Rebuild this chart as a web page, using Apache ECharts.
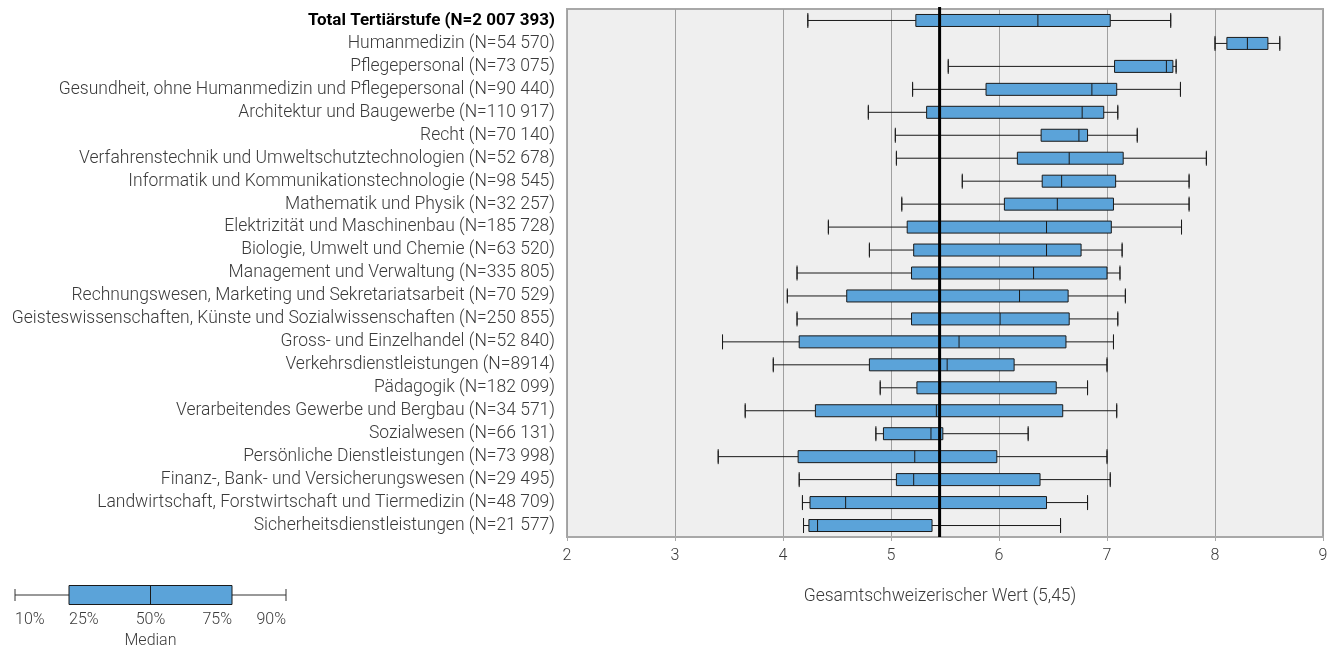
<!DOCTYPE html>
<html>
<head>
<meta charset="utf-8">
<script src="https://cdn.jsdelivr.net/npm/echarts@6/dist/echarts.min.js"></script>
<style>
html,body{margin:0;padding:0;background:#fff;}
#chart{width:1338px;height:649px;}
</style>
</head>
<body>
<div id="chart"></div>
<script>
const categories = [
  'Total Tertiärstufe (N=2 007 393)',
  'Humanmedizin (N=54 570)',
  'Pflegepersonal (N=73 075)',
  'Gesundheit, ohne Humanmedizin und Pflegepersonal (N=90 440)',
  'Architektur und Baugewerbe (N=110 917)',
  'Recht (N=70 140)',
  'Verfahrenstechnik und Umweltschutztechnologien (N=52 678)',
  'Informatik und Kommunikationstechnologie (N=98 545)',
  'Mathematik und Physik (N=32 257)',
  'Elektrizität und Maschinenbau (N=185 728)',
  'Biologie, Umwelt und Chemie (N=63 520)',
  'Management und Verwaltung (N=335 805)',
  'Rechnungswesen, Marketing und Sekretariatsarbeit (N=70 529)',
  'Geisteswissenschaften, Künste und Sozialwissenschaften (N=250 855)',
  'Gross- und Einzelhandel (N=52 840)',
  'Verkehrsdienstleistungen (N=8914)',
  'Pädagogik (N=182 099)',
  'Verarbeitendes Gewerbe und Bergbau (N=34 571)',
  'Sozialwesen (N=66 131)',
  'Persönliche Dienstleistungen (N=73 998)',
  'Finanz-, Bank- und Versicherungswesen (N=29 495)',
  'Landwirtschaft, Forstwirtschaft und Tiermedizin (N=48 709)',
  'Sicherheitsdienstleistungen (N=21 577)'
];
// percentiles per category
const p10 = [4.23, 8.00, 5.53, 5.20, 4.79, 5.04, 5.05, 5.66, 5.10, 4.42, 4.80, 4.13, 4.04, 4.13, 3.44, 3.91, 4.90, 3.65, 4.86, 3.40, 4.15, 4.18, 4.19];
const p25 = [5.23, 8.11, 7.07, 5.88, 5.33, 6.39, 6.17, 6.40, 6.05, 5.15, 5.21, 5.19, 4.59, 5.19, 4.15, 4.80, 5.24, 4.30, 4.93, 4.14, 5.05, 4.25, 4.24];
const p50 = [6.36, 8.30, 7.55, 6.86, 6.77, 6.74, 6.65, 6.58, 6.54, 6.44, 6.44, 6.32, 6.19, 6.01, 5.63, 5.52, 5.46, 5.42, 5.37, 5.22, 5.21, 4.58, 4.32];
const p75 = [7.03, 8.49, 7.61, 7.09, 6.97, 6.82, 7.15, 7.08, 7.06, 7.04, 6.76, 7.00, 6.64, 6.65, 6.62, 6.14, 6.53, 6.59, 5.48, 5.98, 6.38, 6.44, 5.38];
const p90 = [7.59, 8.60, 7.64, 7.68, 7.10, 7.28, 7.92, 7.76, 7.76, 7.69, 7.14, 7.12, 7.17, 7.10, 7.06, 7.00, 6.82, 7.09, 6.27, 7.00, 7.03, 6.82, 6.57];
const overallValue = 5.45;
const xTicks = [2, 3, 4, 5, 6, 7, 8, 9];
const xAxisName = 'Gesamtschweizerischer Wert (5,45)';
// legend key: example percentiles on a 0..271 scale
const legendKey = [0, 54, 135.5, 217, 271];
const legendLabels = ['10%', '25%', '50%', '75%', '90%'];
const legendMedianLabel = 'Median';

const boxData = categories.map((c, i) => [p10[i], p25[i], p50[i], p75[i], p90[i]]);
const capData = categories.map((c, i) => [p10[i], p90[i], i]);

const chart = echarts.init(document.getElementById('chart'), null, {renderer: 'canvas'});
const FONT = 'Roboto, "Noto Sans", sans-serif';
const BOX = '#5BA3D9';
const TXT = '#3a3a3a';

const option = {
  animation: false,
  textStyle: {fontFamily: FONT},
  grid: [
    {left: 567, right: 15, top: 9, height: 528, show: true, backgroundColor: '#EFEFEF', borderColor: '#A8A8A8', borderWidth: 2, containLabel: false},
    {left: 15, width: 271, top: 586, height: 18, show: false}
  ],
  xAxis: [
    {
      type: 'value', gridIndex: 0, min: xTicks[0], max: xTicks[xTicks.length - 1], interval: 1,
      axisLine: {show: true, lineStyle: {color: '#A8A8A8', width: 2}},
      axisTick: {show: true, length: 4, lineStyle: {color: '#A8A8A8'}},
      splitLine: {show: true, lineStyle: {color: '#A0A0A0', width: 1}},
      axisLabel: {color: TXT, fontSize: 16, fontWeight: 300, margin: 11, fontFamily: FONT},
      name: xAxisName, nameLocation: 'middle', nameGap: 51,
      nameTextStyle: {color: TXT, fontSize: 17.5, fontWeight: 300, fontFamily: FONT, padding: [0, 10, 0, 0]}
    },
    {type: 'value', gridIndex: 1, min: 0, max: 271, show: false}
  ],
  yAxis: [
    {
      type: 'category', gridIndex: 0, data: categories, inverse: true,
      axisLine: {show: false}, axisTick: {show: false}, splitLine: {show: false},
      axisLabel: {
        margin: 12, interval: 0,
        formatter: function (v, i) { return i === 0 ? '{b|' + v + '}' : '{n|' + v + '}'; },
        rich: {
          b: {fontWeight: 'bold', color: '#000', fontSize: 17, fontFamily: FONT},
          n: {color: TXT, fontSize: 17.5, fontWeight: 300, fontFamily: FONT}
        }
      }
    },
    {type: 'category', gridIndex: 1, data: ['key'], show: false}
  ],
  series: [
    {
      type: 'boxplot', xAxisIndex: 0, yAxisIndex: 0,
      data: boxData, boxWidth: [12, 12],
      itemStyle: {color: BOX, borderColor: '#1a1a1a', borderWidth: 1},
      z: 3
    },
    {
      type: 'custom', xAxisIndex: 0, yAxisIndex: 0,
      data: capData, encode: {x: [0, 1], y: 2},
      renderItem: function (params, api) {
        const a = api.coord([api.value(0), api.value(2)]);
        const b = api.coord([api.value(1), api.value(2)]);
        const h = 7.5;
        return {
          type: 'group',
          children: [
            {type: 'line', shape: {x1: a[0], y1: a[1] - h, x2: a[0], y2: a[1] + h}, style: {stroke: '#1a1a1a', lineWidth: 1}},
            {type: 'line', shape: {x1: b[0], y1: b[1] - h, x2: b[0], y2: b[1] + h}, style: {stroke: '#1a1a1a', lineWidth: 1}}
          ]
        };
      },
      z: 4
    },
    {
      type: 'custom', xAxisIndex: 0, yAxisIndex: 0,
      data: [[overallValue, 0]], encode: {x: 0, y: 1},
      renderItem: function (params, api) {
        const p = api.coord([api.value(0), 0]);
        const cs = params.coordSys;
        return {type: 'line', shape: {x1: p[0], y1: cs.y - 2, x2: p[0], y2: cs.y + cs.height}, style: {stroke: '#000', lineWidth: 3}};
      },
      z: 6
    },
    {
      type: 'custom', xAxisIndex: 1, yAxisIndex: 1,
      data: [legendKey.concat([0])], encode: {x: [0, 1, 2, 3, 4], y: 5},
      renderItem: function (params, api) {
        const p = [0, 1, 2, 3, 4].map(k => api.coord([api.value(k), api.value(5)]));
        const cy = p[0][1];
        const bh = 9.5, ch = 6;
        return {
          type: 'group',
          children: [
            {type: 'line', shape: {x1: p[0][0], y1: cy, x2: p[1][0], y2: cy}, style: {stroke: '#333', lineWidth: 1}},
            {type: 'line', shape: {x1: p[3][0], y1: cy, x2: p[4][0], y2: cy}, style: {stroke: '#333', lineWidth: 1}},
            {type: 'line', shape: {x1: p[0][0], y1: cy - ch, x2: p[0][0], y2: cy + ch}, style: {stroke: '#333', lineWidth: 1}},
            {type: 'line', shape: {x1: p[4][0], y1: cy - ch, x2: p[4][0], y2: cy + ch}, style: {stroke: '#333', lineWidth: 1}},
            {type: 'rect', shape: {x: p[1][0], y: cy - bh, width: p[3][0] - p[1][0], height: 2 * bh}, style: {fill: BOX, stroke: '#1a1a1a', lineWidth: 1}},
            {type: 'line', shape: {x1: p[2][0], y1: cy - bh, x2: p[2][0], y2: cy + bh}, style: {stroke: '#1a1a1a', lineWidth: 1}}
          ]
        };
      }
    }
  ],
  graphic: [
    {type: 'text', x: 15, y: 612, style: {text: legendLabels[0], fill: TXT, font: '300 16px ' + FONT, textAlign: 'left'}},
    {type: 'text', x: 69, y: 612, style: {text: legendLabels[1], fill: TXT, font: '300 16px ' + FONT, textAlign: 'left'}},
    {type: 'text', x: 150.5, y: 612, style: {text: legendLabels[2], fill: TXT, font: '300 16px ' + FONT, textAlign: 'center'}},
    {type: 'text', x: 232, y: 612, style: {text: legendLabels[3], fill: TXT, font: '300 16px ' + FONT, textAlign: 'right'}},
    {type: 'text', x: 286, y: 612, style: {text: legendLabels[4], fill: TXT, font: '300 16px ' + FONT, textAlign: 'right'}},
    {type: 'text', x: 150.5, y: 633, style: {text: legendMedianLabel, fill: TXT, font: '300 16px ' + FONT, textAlign: 'center'}}
  ]
};
chart.setOption(option);
</script>
</body>
</html>
